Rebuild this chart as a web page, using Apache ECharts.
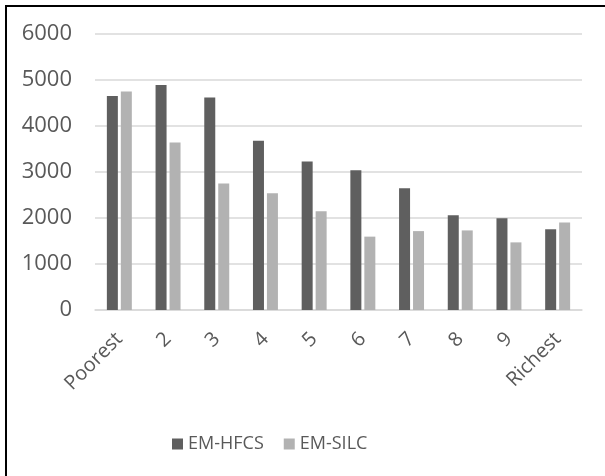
<!DOCTYPE html>
<html>
<head>
<meta charset="utf-8">
<script src="https://cdn.jsdelivr.net/npm/echarts@6/dist/echarts.min.js"></script>
<style>
html,body{margin:0;padding:0;background:#fff;overflow:hidden;}
#chart{width:605px;height:476px;}
</style>
</head>
<body>
<div id="chart"></div>
<script>
var categories = ['Poorest', '2', '3', '4', '5', '6', '7', '8', '9', 'Richest'];
var hfcs = [4650, 4890, 4620, 3680, 3230, 3040, 2645, 2060, 1995, 1755];
var silc = [4750, 3640, 2750, 2540, 2145, 1595, 1715, 1730, 1470, 1900];
var yTicks = [0, 1000, 2000, 3000, 4000, 5000, 6000];

var chart = echarts.init(document.getElementById('chart'), null, {renderer: 'canvas'});
var font = '"Open Sans", sans-serif';
chart.setOption({
  animation: false,
  backgroundColor: '#ffffff',
  graphic: [{
    type: 'rect',
    shape: {x: 6, y: 6, width: 700, height: 600},
    style: {fill: 'none', stroke: '#000000', lineWidth: 2},
    silent: true
  }],
  grid: {left: 95, right: 23, top: 34, bottom: 166, containLabel: false},
  legend: {
    data: ['EM-HFCS', 'EM-SILC'],
    top: 430,
    left: 167,
    itemWidth: 11,
    itemHeight: 11,
    itemGap: 20,
    icon: 'rect',
    textStyle: {color: '#595959', fontSize: 18, fontFamily: font}
  },
  xAxis: {
    type: 'category',
    data: categories,
    axisLine: {show: true, lineStyle: {color: '#d9d9d9', width: 1.5}},
    axisTick: {show: false},
    axisLabel: {rotate: 45, color: '#595959', fontSize: 20, fontFamily: font, margin: 26, interval: 0}
  },
  yAxis: {
    type: 'value',
    min: yTicks[0],
    max: yTicks[yTicks.length - 1],
    interval: 1000,
    axisLine: {show: false},
    axisTick: {show: false},
    splitLine: {lineStyle: {color: '#d9d9d9', width: 1.5}},
    axisLabel: {color: '#595959', fontSize: 22, fontFamily: font, margin: 23,
      formatter: function (v) { return String(v); }}
  },
  series: [
    {name: 'EM-HFCS', type: 'bar', data: hfcs, barWidth: 11, barGap: '27%', itemStyle: {color: '#5f5f5f'}},
    {name: 'EM-SILC', type: 'bar', data: silc, barWidth: 11, itemStyle: {color: '#b2b2b2'}}
  ]
});
</script>
</body>
</html>
